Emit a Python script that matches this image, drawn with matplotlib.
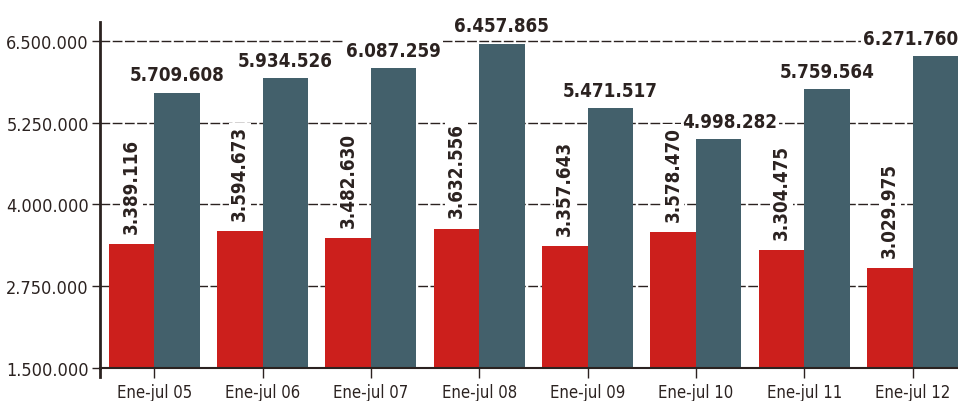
import numpy as np
import matplotlib.pyplot as plt
from matplotlib.ticker import FuncFormatter
from matplotlib import font_manager

# Data
periods = ['Ene-jul 05', 'Ene-jul 06', 'Ene-jul 07', 'Ene-jul 08',
           'Ene-jul 09', 'Ene-jul 10', 'Ene-jul 11', 'Ene-jul 12']
red_vals = [3389116, 3594673, 3482630, 3632556, 3357643, 3578470, 3304475, 3029975]
slate_vals = [5709608, 5934526, 6087259, 6457865, 5471517, 4998282, 5759564, 6271760]
y_ticks = [1500000, 2750000, 4000000, 5250000, 6500000]

RED = '#cc1f1c'
SLATE = '#43606b'
INK = '#2b2220'

names = {f.name for f in font_manager.fontManager.ttflist}
narrow = [n for n in ['Liberation Sans Narrow', 'DejaVu Sans Condensed'] if n in names]
plt.rcParams['font.family'] = narrow + ['DejaVu Sans']
plt.rcParams['font.stretch'] = 'condensed'


def dotted(v, pos=None):
    return f'{int(v):,}'.replace(',', '.')


fig = plt.figure(figsize=(9.58, 4.02), dpi=100)
ax = fig.add_axes([0.1044, 0.0821, 0.8956, 0.8607])

x = np.arange(len(periods))
w = 0.42
ax.bar(x - w / 2, red_vals, width=w, color=RED, zorder=2)
ax.bar(x + w / 2, slate_vals, width=w, color=SLATE, zorder=2)

# horizontal nudges (points) for crowded slate labels
nudge = {5: 8, 7: -18}

box = dict(facecolor='white', edgecolor='none', pad=1.2)
for i, (xi, rv, sv) in enumerate(zip(x, red_vals, slate_vals)):
    ax.annotate(dotted(rv), (xi - w / 2, rv), xytext=(0, 8),
                textcoords='offset points', rotation=90, ha='center', va='bottom',
                fontsize=13.5, fontweight='bold', color=INK, bbox=box,
                zorder=4, annotation_clip=False)
    ax.annotate(dotted(sv), (xi + w / 2, sv), xytext=(nudge.get(i, 0), 6),
                textcoords='offset points', ha='center', va='bottom',
                fontsize=13.5, fontweight='bold', color=INK, bbox=box,
                zorder=3, annotation_clip=False)

ax.set_xlim(-0.5, 7.42)
ax.set_ylim(1500000, 6790000)
ax.set_yticks(y_ticks)
ax.yaxis.set_major_formatter(FuncFormatter(dotted))
ax.set_xticks(x)
ax.set_xticklabels(periods)

ax.grid(axis='y', color=INK, linestyle=(0, (7, 1.8)), linewidth=1, zorder=1)
ax.set_axisbelow(True)
ax.get_ygridlines()[0].set_visible(False)

for s in ['top', 'right']:
    ax.spines[s].set_visible(False)
ax.spines['left'].set_color(INK)
ax.spines['left'].set_linewidth(2)
ax.spines['bottom'].set_color(INK)
ax.spines['bottom'].set_linewidth(1.5)
ax.spines['bottom'].set_zorder(5)

# spine extension below the corner
ax.plot([0, 0], [0, -0.026], transform=ax.transAxes, color=INK, lw=2, clip_on=False)

ax.tick_params(axis='y', length=6, width=1, color=INK, pad=2,
               labelsize=13, labelcolor=INK)
ax.tick_params(axis='x', length=7, width=1, color=INK, pad=4,
               labelsize=12, labelcolor=INK)

fig.savefig('out.png', dpi=100)
